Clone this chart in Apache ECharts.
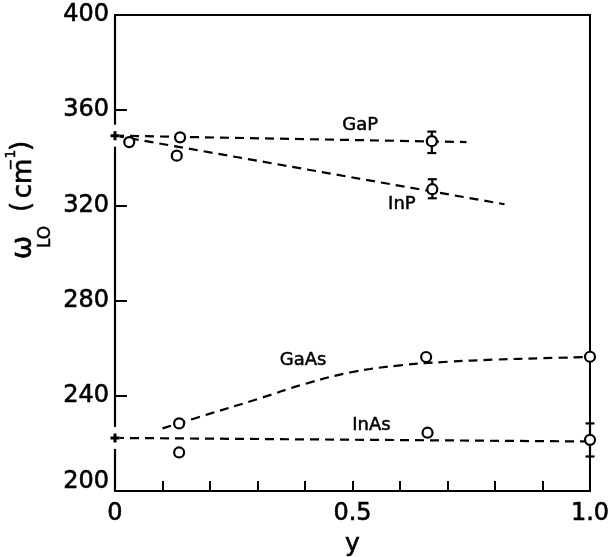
<!DOCTYPE html>
<html>
<head>
<meta charset="utf-8">
<script src="https://cdn.jsdelivr.net/npm/echarts@6/dist/echarts.min.js"></script>
<style>
  html, body { margin: 0; padding: 0; background: #fff; }
  #chart { width: 608px; height: 557px; }
</style>
</head>
<body>
<div id="chart"></div>
<script>
// LO phonon frequencies of the four alloy modes versus composition y

// measured points (open circles)
const gapX  = [0.137, 0.667];
const gapY  = [348.6, 347.0];
const inpX  = [0.03, 0.13, 0.668];
const inpY  = [346.6, 340.9, 326.8];
const gaasX = [0.135, 0.655, 1.0];
const gaasY = [228.4, 256.3, 256.4];
const inasX = [0.135, 0.658, 1.0];
const inasY = [216.2, 224.5, 221.5];

// error bars
const errX  = [0.667, 0.668, 1.0];
const errLo = [342.0, 323.0, 214.5];
const errHi = [351.0, 331.0, 228.4];

// end-member values at y = 0 (crosses on the axis)
const endX = [0, 0];
const endY = [349.3, 222.3];

// dashed guide curves
const gapFitX  = [0, 0.74];
const gapFitY  = [349.3, 346.6];
const inpFitX  = [0, 0.82];
const inpFitY  = [349.3, 320.5];
const gaasFitX = [0.10, 0.2, 0.3, 0.4, 0.5, 0.6, 0.7, 0.8, 0.9, 1.0];
const gaasFitY = [226.3, 232.5, 238.6, 245.0, 250.0, 252.8, 254.3, 255.2, 255.8, 256.3];
const inasFitX = [0, 1.0];
const inasFitY = [222.3, 220.8];

// axis tick labels
const xTickLabels = { '0': '0', '0.5': '0.5', '1': '1.0' };
const yTickValues = [200, 240, 280, 320, 360, 400];

// curve names and where they are written (data units)
const curveNames = ['GaP', 'InP', 'GaAs', 'InAs'];
const nameX = [0.516, 0.604, 0.396, 0.54];
const nameY = [353.6, 320.5, 254.7, 227.8];

const zip = (xs, ys) => xs.map((x, i) => [x, ys[i]]);
const FONT = 'DejaVu Sans';
const INK = '#000';

const dashed = (xs, ys, smooth) => ({
  type: 'line', data: zip(xs, ys), showSymbol: false, smooth: smooth || false,
  lineStyle: { color: INK, width: 2.2, type: [9, 6] }, z: 3, silent: true
});
const circles = (xs, ys) => ({
  type: 'scatter', data: zip(xs, ys), symbol: 'circle', symbolSize: 10,
  itemStyle: { color: '#fff', borderColor: INK, borderWidth: 2.2, opacity: 1 }, z: 6
});

const chart = echarts.init(document.getElementById('chart'));
chart.setOption({
  animation: false,
  backgroundColor: '#fff',
  grid: { left: 115, right: 18, top: 15, bottom: 66, show: true, z: 0,
          borderColor: INK, borderWidth: 2, outerBoundsMode: 'none', containLabel: false },
  xAxis: {
    type: 'value', min: 0, max: 1, interval: 0.1, z: 1,
    name: 'y', nameLocation: 'middle', nameGap: 40,
    nameTextStyle: { fontFamily: FONT, fontSize: 25, color: INK, textBorderColor: INK, textBorderWidth: 0.6 },
    axisLine: { lineStyle: { color: INK, width: 2.2 } },
    axisTick: { inside: true, length: 10, lineStyle: { color: INK, width: 2 } },
    splitLine: { show: false },
    axisLabel: {
      margin: 11, color: INK, fontFamily: FONT, fontSize: 24,
      textBorderColor: INK, textBorderWidth: 0.6,
      formatter: v => xTickLabels[String(Math.round(v * 10) / 10)] || ''
    }
  },
  yAxis: {
    type: 'value', min: 200, max: 400, interval: 40, z: 1,
    axisLine: { lineStyle: { color: INK, width: 2.2 } },
    axisTick: { inside: true, length: 12, lineStyle: { color: INK, width: 2 } },
    splitLine: { show: false },
    axisLabel: {
      margin: 6, color: INK, fontFamily: FONT, fontSize: 24,
      textBorderColor: INK, textBorderWidth: 0.6,
      formatter: v => (v === yTickValues[0] ? '{lo|' + v + '}' : String(v)),
      rich: { lo: { fontFamily: FONT, fontSize: 24, color: INK, textBorderColor: INK,
                    textBorderWidth: 0.6, padding: [0, 0, 18, 0] } }
    }
  },
  graphic: [{
    // axis title ω_LO (cm⁻¹), written bottom-to-top
    type: 'group', x: 32, y: 257, rotation: Math.PI / 2, z: 10,
    children: [
      { type: 'text', x: 9.5, y: -8.5, style: { text: 'ω', font: '28px "DejaVu Sans"', fill: INK,
        align: 'center', verticalAlign: 'middle', stroke: INK, lineWidth: 0.6 } },
      { type: 'text', x: 20, y: 14, style: { text: 'LO', font: '17px "DejaVu Sans"', fill: INK,
        align: 'center', verticalAlign: 'middle', stroke: INK, lineWidth: 0.5 } },
      { type: 'text', x: 50, y: -10, style: { text: '(', font: '26px "DejaVu Sans"', fill: INK,
        align: 'center', verticalAlign: 'middle', stroke: INK, lineWidth: 0.6 } },
      { type: 'text', x: 78.5, y: -8, style: { text: 'cm', font: '26px "DejaVu Sans"', fill: INK,
        align: 'center', verticalAlign: 'middle', stroke: INK, lineWidth: 0.6 } },
      { type: 'text', x: 97, y: -21, style: { text: '−1', font: '14px "DejaVu Sans"', fill: INK,
        align: 'center', verticalAlign: 'middle', stroke: INK, lineWidth: 0.5 } },
      { type: 'text', x: 111, y: -10, style: { text: ')', font: '26px "DejaVu Sans"', fill: INK,
        align: 'center', verticalAlign: 'middle', stroke: INK, lineWidth: 0.6 } }
    ]
  }],
  series: [
    dashed(gapFitX, gapFitY),
    dashed(inpFitX, inpFitY),
    dashed(gaasFitX, gaasFitY, 0.4),
    dashed(inasFitX, inasFitY),
    {
      type: 'custom', z: 5, silent: true,
      data: errX.map((x, i) => [x, errLo[i], errHi[i]]),
      renderItem: (params, api) => {
        const lo = api.coord([api.value(0), api.value(1)]);
        const hi = api.coord([api.value(0), api.value(2)]);
        const cap = 4.5;
        const st = { stroke: INK, lineWidth: 2.2 };
        return { type: 'group', children: [
          { type: 'line', shape: { x1: lo[0], y1: lo[1], x2: hi[0], y2: hi[1] }, style: st },
          { type: 'line', shape: { x1: lo[0] - cap, y1: lo[1], x2: lo[0] + cap, y2: lo[1] }, style: st },
          { type: 'line', shape: { x1: hi[0] - cap, y1: hi[1], x2: hi[0] + cap, y2: hi[1] }, style: st }
        ] };
      }
    },
    // break in the axis line around the end-member crosses
    {
      type: 'scatter', data: zip(endX, endY), symbol: 'rect', symbolSize: [9, 22],
      itemStyle: { color: '#fff', opacity: 1 }, z: 4, silent: true, clip: false
    },
    {
      type: 'scatter', data: zip(endX, endY),
      symbol: 'path://M3,0 H6 V3 H9 V6 H6 V9 H3 V6 H0 V3 H3 Z', symbolSize: 9,
      itemStyle: { color: INK, opacity: 1 }, z: 6, silent: true, clip: false
    },
    circles(gapX, gapY),
    circles(inpX, inpY),
    circles(gaasX, gaasY),
    circles(inasX, inasY),
    {
      // curve names
      type: 'custom', z: 7, silent: true,
      data: nameX.map((x, i) => [x, nameY[i], i]),
      renderItem: (params, api) => {
        const p = api.coord([api.value(0), api.value(1)]);
        return { type: 'text', x: p[0], y: p[1], style: {
          text: curveNames[api.value(2)], font: '18px "DejaVu Sans"', fill: INK,
          stroke: INK, lineWidth: 0.5, align: 'center', verticalAlign: 'middle' } };
      }
    }
  ]
});
</script>
</body>
</html>
